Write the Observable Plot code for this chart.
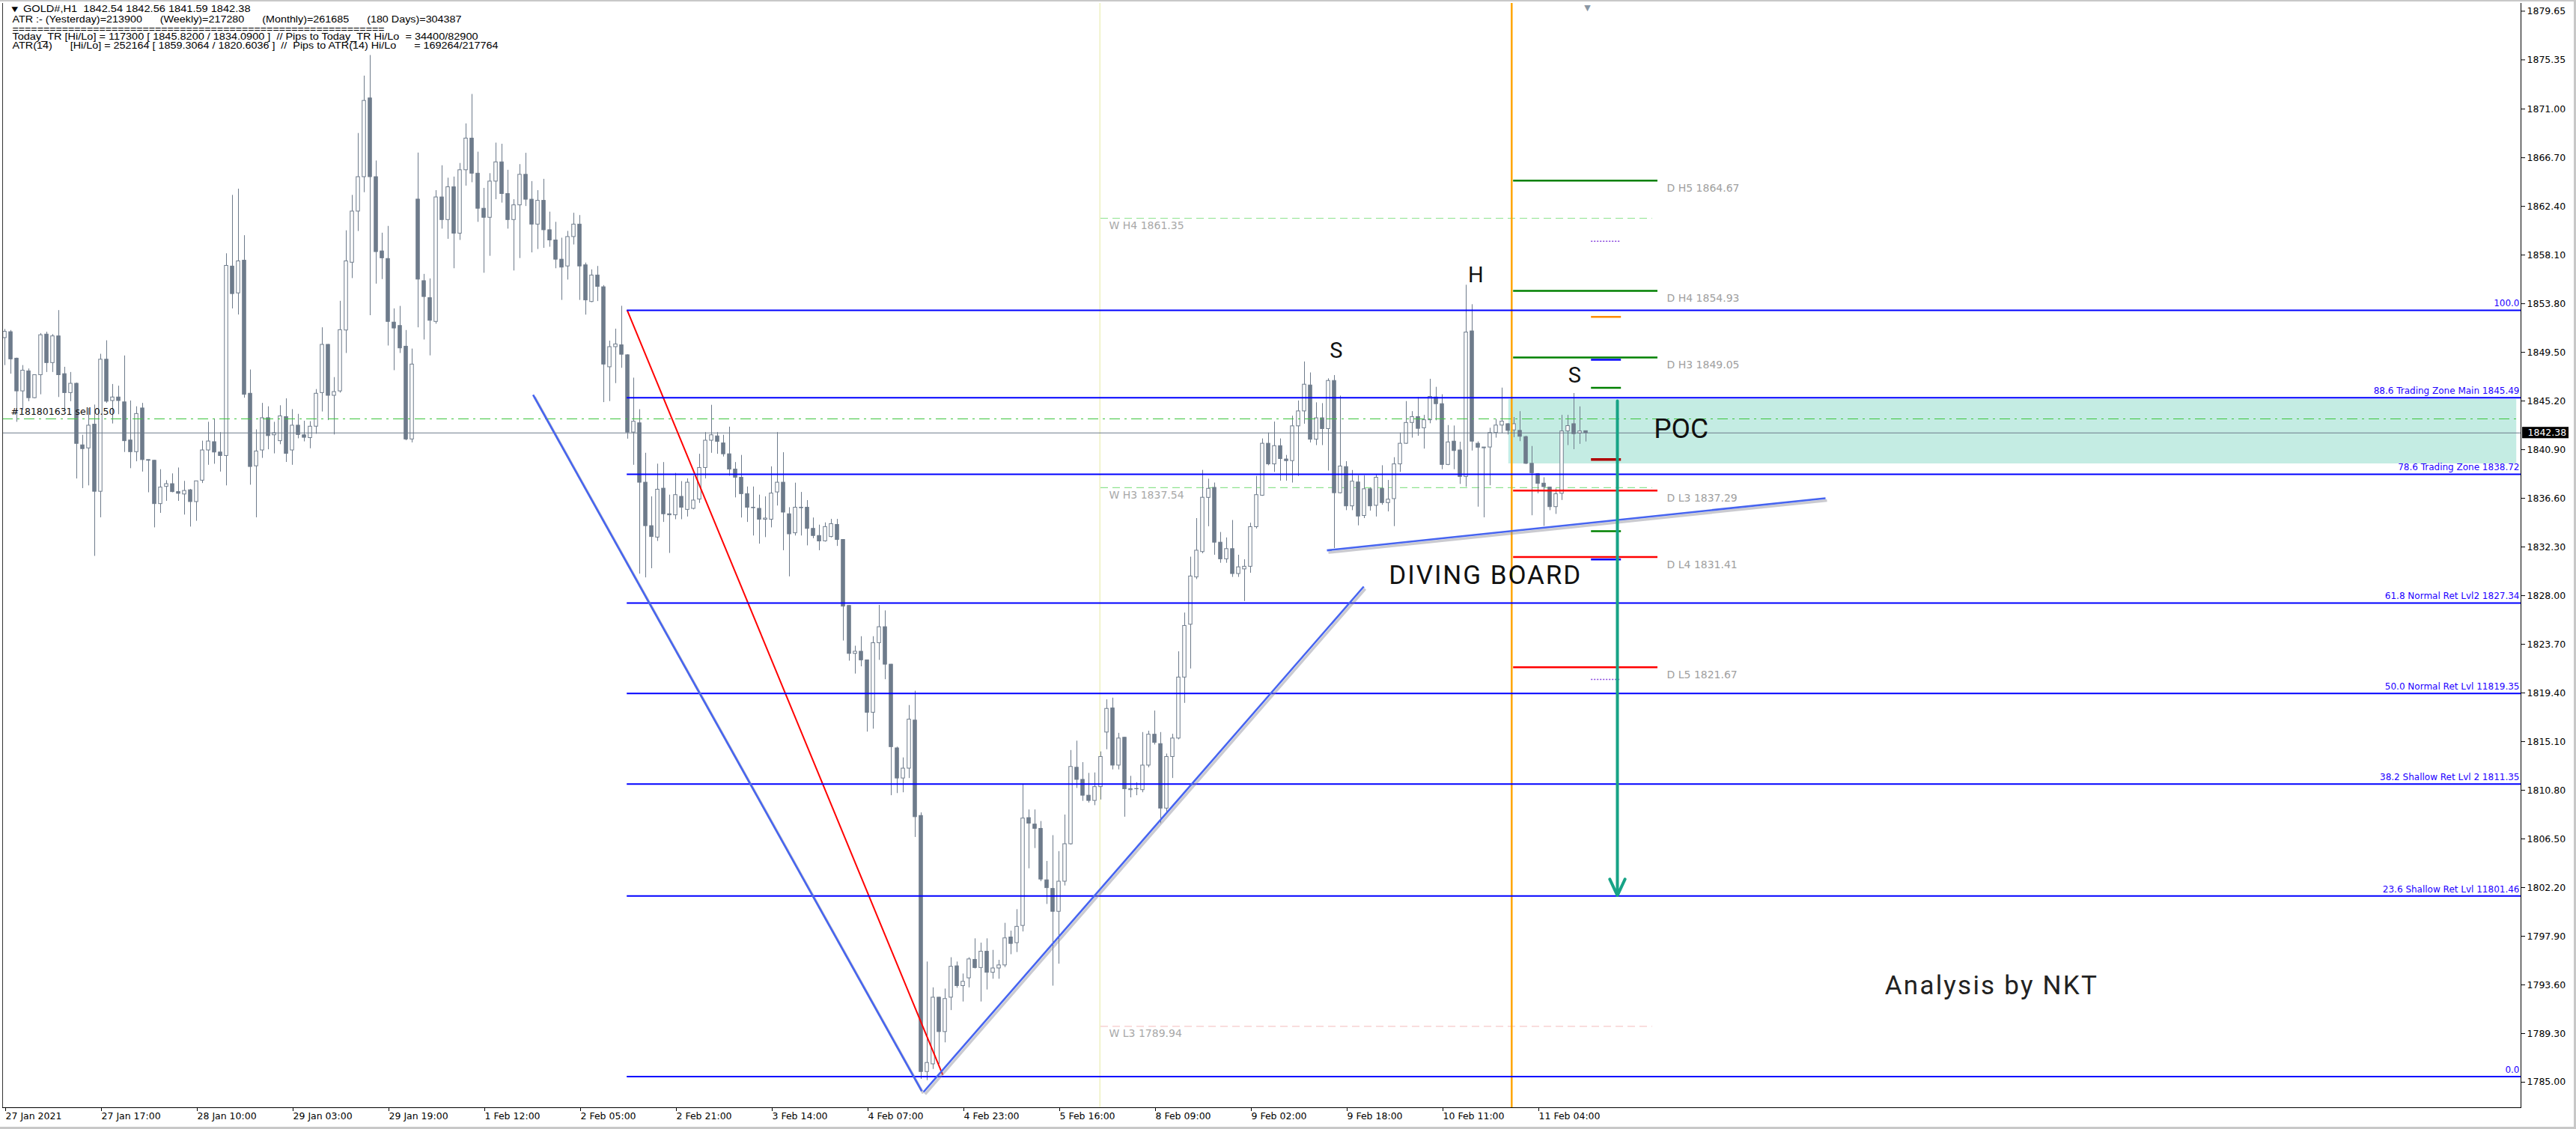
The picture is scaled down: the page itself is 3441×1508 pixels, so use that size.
<!DOCTYPE html>
<html><head><meta charset="utf-8">
<script src="https://cdn.jsdelivr.net/npm/d3@7"></script>
<script src="https://cdn.jsdelivr.net/npm/@observablehq/plot@0.6"></script>
<style>
html,body{margin:0;padding:0;background:#fff;overflow:hidden;}
#wrap{position:relative;width:3441px;height:1508px;}
#wrap svg text{white-space:pre;}
.bd{position:absolute;background:#c8c8c8;}
</style></head><body><div id="wrap"></div>
<script>
// ---------------- DATA (GOLD#, H1) ----------------
const opens = [
1850.77,1851.29,1848.95,1846.06,1847.83,1845.46,1847.49,1851.08,1848.56,1850.92,
1847.58,1845.91,1846.73,1841.29,1841.02,1843.12,1837.19,1848.86,1845.21,1845.52,
1845.09,1841.72,1840.69,1844.55,1839.99,1839.93,1836.10,1837.62,1837.86,1837.16,
1836.95,1837.32,1836.28,1838.17,1840.84,1841.57,1840.66,1840.35,1857.09,1854.72,
1857.61,1845.85,1839.44,1840.84,1843.69,1842.18,1841.66,1843.79,1840.84,1843.03,
1842.18,1841.93,1842.94,1845.91,1850.17,1845.67,1846.06,1851.44,1857.43,1861.95,
1864.99,1871.95,1864.99,1858.43,1857.76,1852.14,1851.84,1850.01,1841.81,1863.01,
1855.80,1854.30,1852.20,1863.20,1861.20,1864.10,1860.00,1865.60,1868.40,1865.30,
1862.20,1861.40,1864.60,1866.30,1863.50,1861.20,1862.50,1865.20,1863.00,1860.80,
1862.90,1860.30,1859.40,1857.70,1857.10,1859.70,1860.80,1857.20,1853.96,1856.30,
1855.26,1848.19,1849.97,1850.13,1849.25,1842.42,1843.24,1837.99,1834.15,1833.14,
1837.46,1835.20,1835.11,1836.74,1835.59,1835.68,1836.50,1839.29,1841.70,1842.08,
1841.46,1840.50,1839.15,1838.43,1836.98,1835.78,1835.68,1834.72,1834.72,1837.13,
1837.99,1835.20,1833.52,1835.78,1835.78,1833.91,1833.28,1832.81,1833.19,1834.26,
1832.93,1827.10,1822.86,1823.05,1822.29,1817.66,1823.81,1825.22,1821.91,1814.51,
1811.85,1812.72,1816.97,1808.54,1785.91,1786.59,1792.48,1789.44,1792.48,1795.25,
1793.50,1794.19,1795.82,1795.10,1796.54,1794.68,1795.06,1795.33,1797.80,1797.30,
1798.82,1808.35,1807.78,1807.40,1802.85,1802.09,1800.07,1802.73,1806.04,1812.80,
1811.73,1810.33,1809.87,1811.09,1815.91,1818.04,1812.99,1815.45,1810.82,1810.90,
1810.82,1812.99,1815.72,1814.89,1809.19,1813.75,1815.38,1820.77,1825.44,1829.62,
1831.86,1836.65,1837.53,1832.69,1831.22,1832.12,1829.92,1830.33,1830.56,1834.06,
1836.84,1841.43,1839.61,1841.22,1840.04,1839.90,1842.97,1844.29,1846.58,1841.79,
1843.68,1842.73,1846.98,1837.06,1839.37,1835.90,1838.01,1835.05,1837.41,1835.95,
1837.44,1836.19,1836.54,1839.61,1841.43,1843.27,1843.79,1842.80,1843.51,1845.52,
1844.93,1839.56,1841.62,1840.84,1838.50,1851.36,1841.43,1841.03,1841.10,1842.38,
1843.04,1843.16,1842.61,1842.57,1842.02,1839.66,1838.74,1837.91,1837.56,1835.83,
1837.01,1842.52,1843.16,1842.33,1842.54];
const highs = [
1851.53,1851.44,1849.00,1848.34,1848.04,1847.50,1851.17,1851.29,1851.08,1853.20,
1848.19,1847.73,1846.80,1842.18,1844.55,1844.85,1849.34,1850.53,1846.67,1846.52,
1849.19,1845.21,1844.70,1845.00,1840.00,1839.95,1839.14,1838.17,1838.77,1839.29,
1838.11,1837.40,1838.11,1841.66,1843.33,1843.63,1842.42,1858.22,1863.38,1863.93,
1859.82,1847.95,1842.66,1845.00,1844.70,1843.33,1844.79,1845.40,1844.45,1844.03,
1843.42,1843.39,1846.22,1851.68,1850.20,1847.28,1854.02,1860.25,1863.38,1868.85,
1873.92,1875.74,1866.42,1860.04,1860.64,1853.35,1853.57,1851.44,1849.80,1867.12,
1856.40,1856.00,1863.80,1866.00,1864.90,1865.00,1866.20,1869.70,1872.30,1867.20,
1864.00,1865.30,1868.00,1867.90,1865.60,1863.00,1866.10,1867.10,1864.60,1863.80,
1864.80,1861.90,1861.00,1859.60,1860.20,1861.80,1861.60,1857.40,1856.80,1857.10,
1855.41,1850.50,1851.56,1853.58,1849.30,1847.23,1844.44,1840.59,1836.74,1839.63,
1839.77,1836.89,1838.81,1838.09,1838.33,1838.57,1840.50,1842.42,1844.83,1842.42,
1842.18,1842.90,1839.77,1840.40,1837.61,1837.61,1836.89,1836.74,1839.39,1842.42,
1840.64,1835.78,1837.95,1837.13,1836.41,1834.87,1834.24,1834.44,1834.75,1834.75,
1832.95,1827.12,1823.54,1824.38,1822.31,1824.38,1827.15,1826.66,1821.93,1814.62,
1813.67,1818.30,1819.56,1808.81,1795.63,1793.35,1792.50,1793.24,1796.01,1795.63,
1794.57,1796.01,1797.68,1797.30,1797.68,1796.66,1795.78,1799.05,1798.36,1800.26,
1811.35,1809.07,1809.07,1808.05,1804.52,1806.80,1805.39,1808.62,1814.32,1815.15,
1813.25,1812.30,1812.34,1814.20,1818.80,1818.95,1815.84,1815.47,1812.04,1811.47,
1815.91,1816.03,1817.81,1815.91,1814.01,1815.76,1823.05,1826.47,1831.41,1834.82,
1839.08,1838.30,1837.96,1833.59,1833.11,1834.65,1831.58,1831.18,1834.41,1838.55,
1841.86,1842.38,1843.35,1841.86,1840.40,1843.87,1845.21,1848.66,1847.69,1845.05,
1844.98,1847.17,1847.46,1845.64,1839.85,1839.07,1838.60,1838.60,1837.53,1838.67,
1839.49,1838.19,1840.20,1842.38,1845.16,1844.27,1845.52,1843.94,1847.13,1846.42,
1845.76,1843.04,1843.00,1841.57,1855.44,1853.72,1841.60,1841.10,1842.80,1843.58,
1846.35,1843.20,1843.75,1844.27,1842.10,1841.19,1838.80,1838.43,1837.60,1837.44,
1843.94,1843.94,1845.87,1844.69,1842.56];
const lows = [
1848.34,1847.58,1843.33,1844.39,1845.15,1845.40,1845.76,1847.73,1847.73,1845.52,
1844.39,1845.15,1838.32,1837.47,1837.71,1831.48,1834.89,1845.00,1843.18,1844.00,
1840.66,1839.23,1839.84,1838.93,1837.10,1834.00,1835.28,1836.34,1837.10,1836.34,
1835.13,1834.07,1834.58,1837.92,1839.53,1839.62,1838.93,1837.71,1853.35,1852.81,
1845.46,1837.77,1834.89,1840.14,1840.90,1840.54,1841.35,1839.78,1839.53,1841.87,
1841.60,1840.99,1842.27,1844.24,1843.48,1842.21,1845.91,1849.41,1856.03,1860.19,
1863.62,1852.75,1855.54,1855.94,1850.07,1847.89,1849.41,1841.70,1841.51,1851.68,
1850.60,1849.20,1852.00,1860.40,1859.50,1856.90,1859.40,1864.20,1864.50,1861.00,
1856.50,1858.00,1863.00,1862.70,1860.40,1856.70,1857.80,1862.40,1858.30,1858.60,
1858.70,1858.80,1856.90,1854.10,1855.90,1859.00,1854.10,1852.80,1853.90,1854.00,
1845.07,1845.16,1846.75,1848.10,1841.84,1839.53,1829.91,1829.58,1830.39,1832.80,
1834.48,1831.74,1834.72,1834.72,1834.96,1835.59,1836.16,1838.33,1840.59,1840.50,
1840.26,1838.57,1836.65,1834.87,1834.48,1833.28,1832.56,1833.14,1834.00,1835.93,
1831.98,1829.67,1833.28,1833.28,1832.41,1833.04,1831.98,1832.74,1833.12,1832.36,
1824.00,1822.22,1821.08,1821.72,1815.95,1816.21,1822.29,1820.58,1810.33,1810.52,
1810.59,1811.85,1806.64,1785.26,1785.15,1786.14,1786.59,1788.49,1791.34,1793.31,
1792.10,1793.35,1795.02,1792.10,1793.16,1794.11,1794.11,1795.14,1796.28,1796.47,
1798.29,1803.87,1805.66,1802.73,1800.72,1793.50,1795.44,1802.35,1805.96,1810.97,
1809.83,1809.68,1809.45,1809.95,1814.39,1812.61,1812.61,1808.43,1810.14,1810.33,
1810.59,1812.80,1814.81,1807.86,1808.69,1811.85,1815.27,1818.49,1821.53,1829.43,
1831.71,1834.10,1831.58,1830.87,1830.87,1829.62,1829.62,1827.49,1829.99,1833.90,
1836.79,1839.49,1838.90,1838.12,1838.12,1837.96,1838.55,1843.16,1841.50,1841.27,
1841.27,1839.02,1832.17,1837.00,1835.52,1835.52,1834.18,1834.82,1835.48,1834.96,
1836.00,1835.41,1834.11,1838.90,1841.38,1841.93,1842.09,1840.96,1843.20,1843.46,
1839.14,1839.50,1839.14,1837.84,1837.60,1840.79,1835.83,1834.89,1837.72,1841.93,
1842.33,1842.21,1841.97,1841.62,1839.60,1835.07,1837.01,1834.13,1835.52,1835.19,
1836.42,1841.27,1840.91,1841.38,1841.59];
const closes = [
1851.32,1848.89,1846.06,1847.89,1845.46,1847.49,1851.02,1848.56,1850.92,1847.49,
1845.91,1846.73,1841.42,1840.96,1843.03,1837.19,1848.86,1845.15,1845.52,1845.21,
1841.66,1840.69,1844.06,1839.99,1839.93,1836.10,1837.56,1837.86,1837.16,1837.01,
1837.26,1836.28,1838.11,1840.84,1841.63,1840.66,1840.35,1857.15,1854.66,1857.55,
1845.76,1839.38,1840.75,1843.69,1842.11,1842.36,1843.85,1840.54,1843.03,1842.21,
1841.96,1842.94,1845.85,1850.17,1845.67,1846.00,1851.47,1857.55,1861.95,1864.99,
1871.73,1864.99,1858.37,1857.82,1852.20,1851.62,1849.86,1841.81,1848.43,1855.94,
1854.40,1852.30,1863.20,1861.20,1864.10,1860.00,1865.60,1868.40,1865.30,1862.20,
1861.40,1864.60,1866.30,1863.50,1861.20,1862.50,1865.20,1863.00,1860.80,1862.90,
1860.30,1859.40,1857.70,1857.00,1859.70,1860.80,1857.10,1854.10,1856.30,1855.30,
1848.43,1849.97,1850.21,1849.30,1842.42,1843.38,1837.99,1834.15,1833.19,1837.37,
1835.20,1835.11,1836.89,1835.78,1837.99,1836.41,1839.29,1841.70,1842.18,1841.60,
1840.50,1839.15,1838.43,1836.98,1835.78,1835.74,1834.72,1834.82,1837.03,1837.99,
1835.35,1833.43,1835.78,1835.74,1833.91,1833.28,1832.80,1834.07,1834.33,1832.93,
1827.04,1822.86,1823.05,1822.29,1817.66,1823.81,1825.22,1821.91,1814.62,1811.85,
1812.72,1817.05,1808.43,1785.91,1786.71,1792.48,1789.44,1792.36,1795.21,1793.50,
1793.88,1795.86,1795.10,1796.54,1794.68,1795.06,1795.33,1797.72,1797.23,1798.74,
1808.31,1807.86,1807.40,1802.92,1802.16,1800.07,1802.73,1806.04,1812.87,1811.73,
1810.33,1809.87,1811.09,1813.75,1818.00,1812.99,1815.38,1810.90,1810.90,1810.92,
1812.99,1815.72,1815.00,1809.19,1813.75,1815.38,1820.77,1825.33,1829.70,1831.98,
1836.66,1837.45,1832.69,1831.22,1832.12,1829.92,1830.51,1830.56,1834.06,1836.89,
1841.43,1839.61,1841.22,1840.08,1839.90,1842.97,1844.29,1846.65,1841.79,1843.68,
1842.73,1846.98,1837.06,1839.42,1835.90,1838.08,1835.00,1837.41,1835.90,1838.43,
1836.19,1836.49,1839.61,1841.43,1843.27,1843.79,1842.75,1843.51,1845.57,1844.93,
1839.56,1841.55,1840.79,1838.50,1851.26,1841.62,1841.08,1841.10,1842.38,1843.04,
1843.39,1842.57,1843.16,1842.05,1839.66,1838.83,1837.89,1837.60,1835.83,1836.97,
1842.52,1842.99,1842.28,1842.52,1842.38];

// axis ticks
const xTickBars = [0,16,32,48,64,80,96,112,128,144,160,176,192,208,224,240,256];
const xTickLabels = ["27 Jan 2021","27 Jan 17:00","28 Jan 10:00","29 Jan 03:00","29 Jan 19:00","1 Feb 12:00","2 Feb 05:00","2 Feb 21:00","3 Feb 14:00","4 Feb 07:00","4 Feb 23:00","5 Feb 16:00","8 Feb 09:00","9 Feb 02:00","9 Feb 18:00","10 Feb 11:00","11 Feb 04:00"];
const yTicks = [1879.65,1875.35,1871.00,1866.70,1862.40,1858.10,1853.80,1849.50,1845.20,1840.90,1836.60,1832.30,1828.00,1823.70,1819.40,1815.10,1810.80,1806.50,1802.20,1797.90,1793.60,1789.30,1785.00];

// Fibonacci retracement (anchor bar, anchor prices)
const fibAnchorBars = [103.9, 156.6];
const fibAnchorPrices = [1853.24, 1785.65];
const fibValues = [1853.21,1845.49,1838.72,1827.34,1819.35,1811.35,1801.46,1785.49];
const fibLabels = ["100.0","88.6 Trading Zone Main 1845.49","78.6 Trading Zone 1838.72","61.8 Normal Ret Lvl2 1827.34","50.0 Normal Ret Lvl 11819.35","38.2 Shallow Ret Lvl 2 1811.35","23.6 Shallow Ret Lvl 11801.46","0.0"];

// daily pivots
const pivotNames = ["D H5","D H4","D H3","D L3","D L4","D L5"];
const pivotValues = [1864.67,1854.93,1849.05,1837.29,1831.41,1821.67];
const pivotBars = [251.9, 276.0];
// weekly pivots
const weeklyNames = ["W H4","W H3","W L3"];
const weeklyValues = [1861.35,1837.54,1789.94];
const weeklyBars = [183.0, 275.1];
// short marker levels
const markerValues = [1859.31,1852.64,1848.85,1846.36,1840.03,1833.70,1831.20,1820.60];
const markerKinds  = ["atr","orange","blue","green","maroon","green","blue","atr"];
const markerBars = [264.9, 269.9];

// period separators (weekly, daily)
const separators = [182.85, 251.6];
// current price / order
const lastPrice = 1842.38;
const orderPrice = 1843.62;
const orderLabel = "#181801631 sell 0.50";
// POC zone
const pocBars = [251.1, 419.4];
const pocPrices = [1839.65, 1845.35];
// trendlines [x1, y1, x2, y2]
const trendV1 = [88.2, 1845.74, 153.1, 1784.21];
const trendV2 = [153.4, 1784.14, 226.9, 1828.80];
const trendBoard = [220.75, 1832.0, 304.0, 1836.61];
// target arrow
const arrowBar = 269.25;
const arrowPrices = [1845.2, 1801.5];
// annotations
const letterTexts = ["S","H","S"];
const letterBars = [222.3, 245.6, 262.1];
const letterPrices = [1849.6, 1856.32, 1847.41];
const pocText = ["POC", 279.9, 1842.7];
const boardText = ["DIVING BOARD", 247.1, 1829.8];
const creditText = ["Analysis by NKT", 331.6, 1793.49];
// header
const headerLines = [
  "\u25BC GOLD#,H1  1842.54 1842.56 1841.59 1842.38",
  "ATR :- (Yesterday)=213900      (Weekly)=217280      (Monthly)=261685      (180 Days)=304387",
  "============================================================",
  "Today_TR [Hi/Lo] = 117300 [ 1845.8200 / 1834.0900 ]  // Pips to Today_TR Hi/Lo  = 34400/82900",
  "ATR(14)      [Hi/Lo] = 252164 [ 1859.3064 / 1820.6036 ]  //  Pips to ATR(14) Hi/Lo      = 169264/217764"
];

// ---------------- BUILD ----------------
const bars = opens.map((o, i) => ({i, o, h: highs[i], l: lows[i], c: closes[i]}));
const bulls = bars.filter(d => d.c >= d.o);
const bears = bars.filter(d => d.c < d.o);
const xMin = -0.375, xMax = 420.125;
const CANDLE = "#6e7b8b";
const labelMap = new Map(xTickBars.map((b, i) => [b, xTickLabels[i]]));
const fib = fibValues.map((v, i) => ({v, label: fibLabels[i]}));
const piv = pivotValues.map((v, i) => ({v, name: pivotNames[i], label: pivotNames[i] + " " + v.toFixed(2)}));
const wk = weeklyValues.map((v, i) => ({v, label: weeklyNames[i] + " " + v.toFixed(2)}));
const mk = markerValues.map((v, i) => ({v, k: markerKinds[i]}));
const markerStyle = {
  atr: {stroke: "#8844dd", strokeDasharray: "2,2", strokeWidth: 1.5},
  orange: {stroke: "#ff8c00", strokeWidth: 2.5},
  blue: {stroke: "#0000ff", strokeWidth: 2.5},
  green: {stroke: "#008000", strokeWidth: 2.5},
  maroon: {stroke: "#b00000", strokeWidth: 3.5}
};
const link = t => [{x1: t[0], y1: t[1], x2: t[2], y2: t[3]}];
const trends = [trendV1, trendV2, trendBoard].map(t => ({x1: t[0], y1: t[1], x2: t[2], y2: t[3]}));
const headerDx = [9, 13, 13, 13, 13];
const headerDy = [12, 26, 38.5, 49, 61];
const headerW = [322, 600, 497, 622, 649];

const marks = [
  // POC zone
  Plot.rect([0], {x1: pocBars[0], x2: pocBars[1], y1: pocPrices[0], y2: pocPrices[1], fill: "#c4ece3"}),
  // separators
  Plot.ruleX([separators[0]], {stroke: "#f1f3cc", strokeWidth: 2}),
  // weekly pivots
  Plot.ruleY(wk.slice(0, 2), {y: "v", x1: weeklyBars[0], x2: weeklyBars[1], stroke: "#8fe38f", strokeWidth: 1.2, strokeDasharray: "10,6"}),
  Plot.ruleY(wk.slice(2), {y: "v", x1: weeklyBars[0], x2: weeklyBars[1], stroke: "#f6c9c9", strokeWidth: 1.2, strokeDasharray: "10,6"}),
  Plot.text(wk, {x: weeklyBars[0], y: "v", text: "label", dx: 11, dy: 10, textAnchor: "start", fill: "#a8a8a8", fontSize: 14, fontFamily: "DejaVu Sans"}),
  // candles
  Plot.ruleX(bars, {x: "i", y1: "l", y2: "h", stroke: CANDLE, strokeWidth: 1}),
  Plot.rect(bears, {x1: d => d.i - 0.28, x2: d => d.i + 0.28, y1: "o", y2: "c", fill: CANDLE, stroke: CANDLE, strokeWidth: 1}),
  Plot.rect(bulls, {x1: d => d.i - 0.28, x2: d => d.i + 0.28, y1: "o", y2: "c", fill: "#ffffff", stroke: CANDLE, strokeWidth: 1}),
  // daily separator (orange)
  Plot.ruleX([separators[1]], {stroke: "#ffa500", strokeWidth: 2.5}),
  // current price and order line
  Plot.ruleY([lastPrice], {stroke: "#6e7b8b", strokeWidth: 1.2}),
  Plot.ruleY([orderPrice], {stroke: "#3cc43c", strokeWidth: 1.2, strokeDasharray: "14,6,3,6"}),
  Plot.text([orderLabel], {x: xMin, y: orderPrice, text: d => d, dx: 11, dy: -9, textAnchor: "start", fill: "#111", fontSize: 12.5, fontFamily: "DejaVu Sans"}),
  // fibonacci
  Plot.link(link([fibAnchorBars[0], fibAnchorPrices[0], fibAnchorBars[1], fibAnchorPrices[1]]), {x1: "x1", y1: "y1", x2: "x2", y2: "y2", stroke: "#ff0000", strokeWidth: 2}),
  Plot.ruleY(fib, {y: "v", x1: fibAnchorBars[0], x2: xMax, stroke: "#0000ff", strokeWidth: 2}),
  Plot.text(fib, {x: xMax, y: "v", text: "label", dx: -2, dy: -9, textAnchor: "end", fill: "#2200ff", fontSize: 12, fontFamily: "DejaVu Sans"}),
  // trendlines (shadow + line)
  Plot.link(trends, {x1: "x1", y1: "y1", x2: "x2", y2: "y2", stroke: "#8a8a96", strokeOpacity: 0.45, strokeWidth: 3.5, dx: 2, dy: 3}),
  Plot.link(trends, {x1: "x1", y1: "y1", x2: "x2", y2: "y2", stroke: "#4664f0", strokeWidth: 2.6}),
  // daily pivots
  Plot.ruleY(piv.filter(d => d.name.includes("H")), {y: "v", x1: pivotBars[0], x2: pivotBars[1], stroke: "#008000", strokeWidth: 2.5}),
  Plot.ruleY(piv.filter(d => d.name.includes("L")), {y: "v", x1: pivotBars[0], x2: pivotBars[1], stroke: "#ff0000", strokeWidth: 2.5}),
  Plot.text(piv, {x: pivotBars[1], y: "v", text: "label", dx: 12, dy: 10, textAnchor: "start", fill: "#a0a0a0", fontSize: 14, fontFamily: "DejaVu Sans"}),
  ...Object.keys(markerStyle).map(k => Plot.ruleY(mk.filter(d => d.k === k), {y: "v", x1: markerBars[0], x2: markerBars[1], ...markerStyle[k]})),
  // target arrow
  Plot.arrow([0], {x1: arrowBar, x2: arrowBar, y1: arrowPrices[0], y2: arrowPrices[1], stroke: "#17a386", strokeWidth: 4, headLength: 9, headAngle: 50}),
  // annotations
  Plot.text(letterTexts.map((t, i) => ({t, x: letterBars[i], y: letterPrices[i]})), {x: "x", y: "y", text: "t", fontSize: 29, fontFamily: "Roboto", fill: "#111"}),
  Plot.text([pocText], {x: d => d[1], y: d => d[2], text: d => d[0], fontSize: 37, fontFamily: "Roboto", fill: "#111"}),
  Plot.text([boardText], {x: d => d[1], y: d => d[2], text: d => d[0], fontSize: 35, fontFamily: "Roboto", fill: "#111", className: "board"}),
  Plot.text([creditText], {x: d => d[1], y: d => d[2], text: d => d[0], fontSize: 35, fontFamily: "Roboto", fill: "#222", className: "credit"}),
  // chart shift marker
  Plot.text(["\u25BC"], {x: 264.25, frameAnchor: "top", text: d => d, dy: 2, lineAnchor: "top", fill: "#8a96a3", fontSize: 11}),
  // header lines
  ...headerLines.map((s, i) => Plot.text([s], {frameAnchor: "top-left", text: d => d, dx: headerDx[i], dy: headerDy[i] - 4, textAnchor: "start", lineAnchor: "middle", fill: "#000", fontSize: 12, fontFamily: "Liberation Sans", className: "hdr" + i})),
  // axes & frame
  Plot.frame({anchor: "left", stroke: "#333"}),
  Plot.frame({anchor: "bottom", stroke: "#000"}),
  Plot.frame({anchor: "right", stroke: "#000"}),
  Plot.axisY(yTicks, {anchor: "right", tickSize: 5, tickPadding: 3, tickFormat: d => d.toFixed(2), fontSize: 12.5, label: null}),
  Plot.axisX(xTickBars, {anchor: "bottom", tickSize: 5, tickPadding: 2, tickFormat: d => labelMap.get(d), textAnchor: "start", dx: 1, fontSize: 12.5, label: null}),
  // last price box on axis
  Plot.rect([lastPrice], {x1: xMax + 0.25, x2: xMax + 8.0, y1: d => d - 0.5, y2: d => d + 0.5, fill: "#000"}),
  Plot.text([lastPrice], {x: xMax, y: d => d, text: d => d.toFixed(2), dx: 9, textAnchor: "start", fill: "#fff", fontSize: 12.5})
];

const chart = Plot.plot({
  width: 3441, height: 1508,
  marginLeft: 3, marginRight: 74, marginTop: 4, marginBottom: 29,
  x: {domain: [xMin, xMax], label: null},
  y: {domain: [1782.75, 1880.34], label: null},
  style: {fontFamily: "DejaVu Sans", fontSize: "12.5px", color: "#000", background: "#fff", overflow: "visible"},
  marks
});
document.getElementById("wrap").appendChild(chart);

// fit header line widths like the terminal rendering
headerW.forEach((w, i) => {
  chart.querySelectorAll(".hdr" + i + " text").forEach(t => { t.setAttribute("textLength", w); t.setAttribute("lengthAdjust", "spacingAndGlyphs"); });
});
chart.querySelectorAll(".board text").forEach(t => { t.setAttribute("textLength", 256); t.setAttribute("lengthAdjust", "spacing"); });
chart.querySelectorAll(".credit text").forEach(t => { t.setAttribute("textLength", 283); t.setAttribute("lengthAdjust", "spacing"); });

// window borders
const wrap = document.getElementById("wrap");
[["0px","0px","3441px","2px"],["3438px","0px","3px","1508px"],["0px","1505px","3441px","3px"]].forEach(([l,t,w,h]) => {
  const d = document.createElement("div"); d.className = "bd";
  Object.assign(d.style, {left: l, top: t, width: w, height: h}); wrap.appendChild(d);
});
</script>
</body></html>
